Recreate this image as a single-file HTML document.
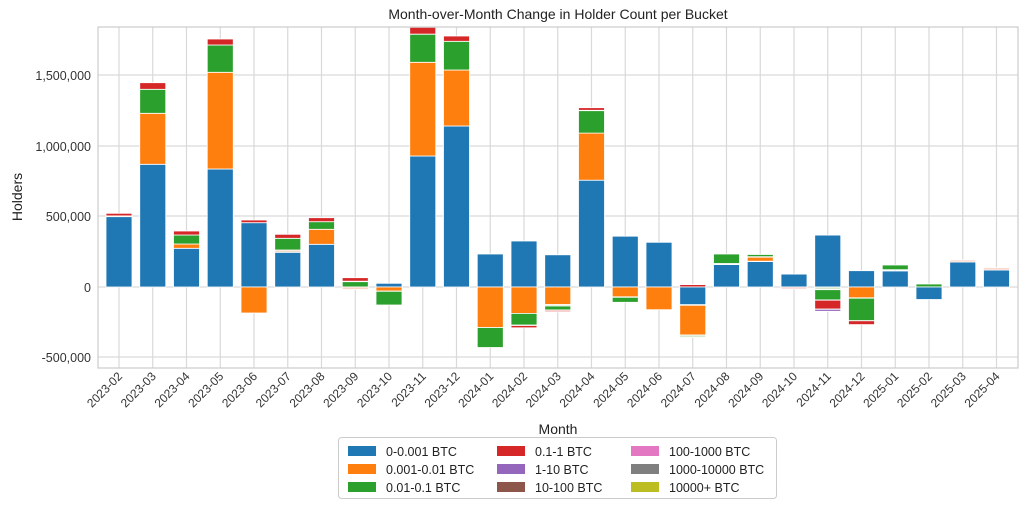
<!DOCTYPE html>
<html><head><meta charset="utf-8"><style>
body{margin:0;background:#fff;}
svg{display:block;font-family:"Liberation Sans",Arial,sans-serif;}
</style></head><body>
<svg width="1024" height="507" viewBox="0 0 1024 507" xmlns="http://www.w3.org/2000/svg">
<rect width="1024" height="507" fill="#fff"/>
<g stroke="#d9d9d9" stroke-width="1.2">
<line x1="98" x2="1018" y1="75" y2="75"/><line x1="98" x2="1018" y1="146" y2="146"/><line x1="98" x2="1018" y1="216" y2="216"/><line x1="98" x2="1018" y1="287" y2="287"/><line x1="98" x2="1018" y1="357" y2="357"/>
<line x1="119" x2="119" y1="27" y2="368"/><line x1="152.75" x2="152.75" y1="27" y2="368"/><line x1="186.5" x2="186.5" y1="27" y2="368"/><line x1="220.25" x2="220.25" y1="27" y2="368"/><line x1="254" x2="254" y1="27" y2="368"/><line x1="287.75" x2="287.75" y1="27" y2="368"/><line x1="321.5" x2="321.5" y1="27" y2="368"/><line x1="355.25" x2="355.25" y1="27" y2="368"/><line x1="389" x2="389" y1="27" y2="368"/><line x1="422.75" x2="422.75" y1="27" y2="368"/><line x1="456.5" x2="456.5" y1="27" y2="368"/><line x1="490.25" x2="490.25" y1="27" y2="368"/><line x1="524" x2="524" y1="27" y2="368"/><line x1="557.75" x2="557.75" y1="27" y2="368"/><line x1="591.5" x2="591.5" y1="27" y2="368"/><line x1="625.25" x2="625.25" y1="27" y2="368"/><line x1="659" x2="659" y1="27" y2="368"/><line x1="692.75" x2="692.75" y1="27" y2="368"/><line x1="726.5" x2="726.5" y1="27" y2="368"/><line x1="760.25" x2="760.25" y1="27" y2="368"/><line x1="794" x2="794" y1="27" y2="368"/><line x1="827.75" x2="827.75" y1="27" y2="368"/><line x1="861.5" x2="861.5" y1="27" y2="368"/><line x1="895.25" x2="895.25" y1="27" y2="368"/><line x1="929" x2="929" y1="27" y2="368"/><line x1="962.75" x2="962.75" y1="27" y2="368"/><line x1="996.5" x2="996.5" y1="27" y2="368"/>
</g>
<g stroke="#fff" stroke-width="0.8">
<!-- 0 -->
<rect x="106" y="216.7" width="26" height="70.3" fill="#1f77b4"/><rect x="106" y="213.3" width="26" height="2.6" fill="#d62728"/>
<!-- 1 -->
<rect x="139.75" y="164.3" width="26" height="122.7" fill="#1f77b4"/><rect x="139.75" y="113.3" width="26" height="51" fill="#ff7f0e"/><rect x="139.75" y="89.3" width="26" height="24" fill="#2ca02c"/><rect x="139.75" y="82.7" width="26" height="6.6" fill="#d62728"/>
<!-- 2 -->
<rect x="173.5" y="248.3" width="26" height="38.7" fill="#1f77b4"/><rect x="173.5" y="244" width="26" height="4.3" fill="#ff7f0e"/><rect x="173.5" y="235" width="26" height="9" fill="#2ca02c"/><rect x="173.5" y="231" width="26" height="4" fill="#d62728"/>
<!-- 3 -->
<rect x="207.25" y="169" width="26" height="118" fill="#1f77b4"/><rect x="207.25" y="72.3" width="26" height="96.7" fill="#ff7f0e"/><rect x="207.25" y="45" width="26" height="27.3" fill="#2ca02c"/><rect x="207.25" y="39" width="26" height="6" fill="#d62728"/>
<!-- 4 -->
<rect x="241" y="222.7" width="26" height="64.3" fill="#1f77b4"/><rect x="241" y="220" width="26" height="2.7" fill="#d62728"/><rect x="241" y="287" width="26" height="26" fill="#ff7f0e"/>
<!-- 5 -->
<rect x="274.75" y="252.3" width="26" height="34.7" fill="#1f77b4"/><rect x="274.75" y="250" width="26" height="2.3" fill="#f3d6c4"/><rect x="274.75" y="238.3" width="26" height="11.7" fill="#2ca02c"/><rect x="274.75" y="234.3" width="26" height="4" fill="#d62728"/>
<!-- 6 -->
<rect x="308.5" y="244.3" width="26" height="42.7" fill="#1f77b4"/><rect x="308.5" y="229.3" width="26" height="15" fill="#ff7f0e"/><rect x="308.5" y="221.7" width="26" height="7.6" fill="#2ca02c"/><rect x="308.5" y="217.7" width="26" height="4" fill="#d62728"/>
<!-- 7 -->
<rect x="342.25" y="281.7" width="26" height="5.3" fill="#2ca02c"/><rect x="342.25" y="277.7" width="26" height="3.5" fill="#d62728"/><rect x="342.25" y="287" width="26" height="2.5" fill="#fcd5c5"/>
<!-- 8 -->
<rect x="376" y="283.3" width="26" height="3.7" fill="#1f77b4"/><rect x="376" y="287" width="26" height="4" fill="#ff7f0e"/><rect x="376" y="291.3" width="26" height="13.7" fill="#2ca02c"/>
<!-- 9 -->
<rect x="409.75" y="156" width="26" height="131" fill="#1f77b4"/><rect x="409.75" y="62.3" width="26" height="93.7" fill="#ff7f0e"/><rect x="409.75" y="34.3" width="26" height="28" fill="#2ca02c"/><rect x="409.75" y="27.3" width="26" height="6.8" fill="#d62728"/>
<!-- 10 -->
<rect x="443.5" y="126" width="26" height="161" fill="#1f77b4"/><rect x="443.5" y="70" width="26" height="56" fill="#ff7f0e"/><rect x="443.5" y="41.3" width="26" height="28.7" fill="#2ca02c"/><rect x="443.5" y="36" width="26" height="5.3" fill="#d62728"/>
<!-- 11 -->
<rect x="477.25" y="254" width="26" height="33" fill="#1f77b4"/><rect x="477.25" y="287" width="26" height="40.5" fill="#ff7f0e"/><rect x="477.25" y="327.5" width="26" height="20" fill="#2ca02c"/>
<!-- 12 -->
<rect x="511" y="241" width="26" height="46" fill="#1f77b4"/><rect x="511" y="287" width="26" height="26.4" fill="#ff7f0e"/><rect x="511" y="313.4" width="26" height="11.6" fill="#2ca02c"/><rect x="511" y="325.5" width="26" height="2.3" fill="#d62728"/>
<!-- 13 -->
<rect x="544.75" y="254.8" width="26" height="32.2" fill="#1f77b4"/><rect x="544.75" y="287" width="26" height="17.6" fill="#ff7f0e"/><rect x="544.75" y="304.6" width="26" height="1.4" fill="#d8e8cc"/><rect x="544.75" y="306" width="26" height="4" fill="#2ca02c"/><rect x="544.75" y="310" width="26" height="2" fill="#f3b0b0"/>
<!-- 14 -->
<rect x="578.5" y="180.2" width="26" height="106.8" fill="#1f77b4"/><rect x="578.5" y="133.1" width="26" height="47.1" fill="#ff7f0e"/><rect x="578.5" y="110.7" width="26" height="22.4" fill="#2ca02c"/><rect x="578.5" y="107.7" width="26" height="2.6" fill="#d62728"/>
<!-- 15 -->
<rect x="612.25" y="236.2" width="26" height="50.8" fill="#1f77b4"/><rect x="612.25" y="287" width="26" height="9.8" fill="#ff7f0e"/><rect x="612.25" y="297.3" width="26" height="5" fill="#2ca02c"/>
<!-- 16 -->
<rect x="646" y="242.3" width="26" height="44.7" fill="#1f77b4"/><rect x="646" y="287" width="26" height="22.7" fill="#ff7f0e"/>
<!-- 17 -->
<rect x="679.75" y="284.6" width="26" height="2.4" fill="#d62728"/><rect x="679.75" y="287" width="26" height="17.6" fill="#1f77b4"/><rect x="679.75" y="305.3" width="26" height="29.7" fill="#ff7f0e"/><rect x="679.75" y="335" width="26" height="2.5" fill="#d8e8cc"/>
<!-- 18 -->
<rect x="713.5" y="264.6" width="26" height="22.4" fill="#1f77b4"/><rect x="713.5" y="254" width="26" height="9.5" fill="#2ca02c"/>
<!-- 19 -->
<rect x="747.25" y="261.6" width="26" height="25.4" fill="#1f77b4"/><rect x="747.25" y="257.2" width="26" height="4" fill="#ff7f0e"/><rect x="747.25" y="254.5" width="26" height="2.2" fill="#2ca02c"/>
<!-- 20 -->
<rect x="781" y="274.1" width="26" height="12.9" fill="#1f77b4"/><rect x="781" y="287" width="26" height="2" fill="#f6c6c6"/>
<!-- 21 -->
<rect x="814.75" y="235.1" width="26" height="51.9" fill="#1f77b4"/><rect x="814.75" y="287" width="26" height="2.5" fill="#d8e8cc"/><rect x="814.75" y="289.7" width="26" height="10.2" fill="#2ca02c"/><rect x="814.75" y="300.2" width="26" height="8.8" fill="#d62728"/><rect x="814.75" y="309.3" width="26" height="2" fill="#9467bd"/>
<!-- 22 -->
<rect x="848.5" y="270.7" width="26" height="16.3" fill="#1f77b4"/><rect x="848.5" y="287" width="26" height="10.8" fill="#ff7f0e"/><rect x="848.5" y="298.2" width="26" height="22.4" fill="#2ca02c"/><rect x="848.5" y="320.8" width="26" height="3.8" fill="#d62728"/>
<!-- 23 -->
<rect x="882.25" y="271" width="26" height="16" fill="#1f77b4"/><rect x="882.25" y="265" width="26" height="4.7" fill="#2ca02c"/>
<!-- 24 -->
<rect x="916" y="284" width="26" height="3" fill="#2ca02c"/><rect x="916" y="287" width="26" height="12.5" fill="#1f77b4"/>
<!-- 25 -->
<rect x="949.75" y="261.9" width="26" height="25.1" fill="#1f77b4"/><rect x="949.75" y="260" width="26" height="2" fill="#fbd3c6"/>
<!-- 26 -->
<rect x="983.5" y="270" width="26" height="17" fill="#1f77b4"/><rect x="983.5" y="267.7" width="26" height="2.3" fill="#fbd3c6"/>
</g>
<rect x="98" y="27" width="920" height="341" fill="none" stroke="#cccccc" stroke-width="1.2"/>
<text x="558" y="19" font-size="14" text-anchor="middle" fill="#222">Month-over-Month Change in Holder Count per Bucket</text>
<g font-size="12.5" fill="#333" text-anchor="end">
<text x="91" y="80">1,500,000</text><text x="91" y="151">1,000,000</text><text x="91" y="221">500,000</text><text x="91" y="292">0</text><text x="91" y="362">-500,000</text>
</g>
<text transform="translate(22,197) rotate(-90)" font-size="14" text-anchor="middle" fill="#222">Holders</text>
<g font-size="12" fill="#333" text-anchor="end">
<text transform="translate(123,377) rotate(-45)">2023-02</text>
<text transform="translate(156.75,377) rotate(-45)">2023-03</text>
<text transform="translate(190.5,377) rotate(-45)">2023-04</text>
<text transform="translate(224.25,377) rotate(-45)">2023-05</text>
<text transform="translate(258,377) rotate(-45)">2023-06</text>
<text transform="translate(291.75,377) rotate(-45)">2023-07</text>
<text transform="translate(325.5,377) rotate(-45)">2023-08</text>
<text transform="translate(359.25,377) rotate(-45)">2023-09</text>
<text transform="translate(393,377) rotate(-45)">2023-10</text>
<text transform="translate(426.75,377) rotate(-45)">2023-11</text>
<text transform="translate(460.5,377) rotate(-45)">2023-12</text>
<text transform="translate(494.25,377) rotate(-45)">2024-01</text>
<text transform="translate(528,377) rotate(-45)">2024-02</text>
<text transform="translate(561.75,377) rotate(-45)">2024-03</text>
<text transform="translate(595.5,377) rotate(-45)">2024-04</text>
<text transform="translate(629.25,377) rotate(-45)">2024-05</text>
<text transform="translate(663,377) rotate(-45)">2024-06</text>
<text transform="translate(696.75,377) rotate(-45)">2024-07</text>
<text transform="translate(730.5,377) rotate(-45)">2024-08</text>
<text transform="translate(764.25,377) rotate(-45)">2024-09</text>
<text transform="translate(798,377) rotate(-45)">2024-10</text>
<text transform="translate(831.75,377) rotate(-45)">2024-11</text>
<text transform="translate(865.5,377) rotate(-45)">2024-12</text>
<text transform="translate(899.25,377) rotate(-45)">2025-01</text>
<text transform="translate(933,377) rotate(-45)">2025-02</text>
<text transform="translate(966.75,377) rotate(-45)">2025-03</text>
<text transform="translate(1000.5,377) rotate(-45)">2025-04</text>
</g>
<text x="558" y="434" font-size="14" text-anchor="middle" fill="#222">Month</text>
<rect x="338.5" y="437.5" width="438" height="61" fill="#fff" stroke="#cccccc" rx="3"/>
<g font-size="12.5" fill="#222">
<rect x="348" y="446" width="28" height="10" fill="#1f77b4"/><text x="386" y="456">0-0.001 BTC</text>
<rect x="348" y="464" width="28" height="10" fill="#ff7f0e"/><text x="386" y="474">0.001-0.01 BTC</text>
<rect x="348" y="482" width="28" height="10" fill="#2ca02c"/><text x="386" y="492">0.01-0.1 BTC</text>
<rect x="497" y="446" width="28" height="10" fill="#d62728"/><text x="535" y="456">0.1-1 BTC</text>
<rect x="497" y="464" width="28" height="10" fill="#9467bd"/><text x="535" y="474">1-10 BTC</text>
<rect x="497" y="482" width="28" height="10" fill="#8c564b"/><text x="535" y="492">10-100 BTC</text>
<rect x="631" y="446" width="28" height="10" fill="#e377c2"/><text x="669" y="456">100-1000 BTC</text>
<rect x="631" y="464" width="28" height="10" fill="#7f7f7f"/><text x="669" y="474">1000-10000 BTC</text>
<rect x="631" y="482" width="28" height="10" fill="#bcbd22"/><text x="669" y="492">10000+ BTC</text>
</g>
</svg>
</body></html>
